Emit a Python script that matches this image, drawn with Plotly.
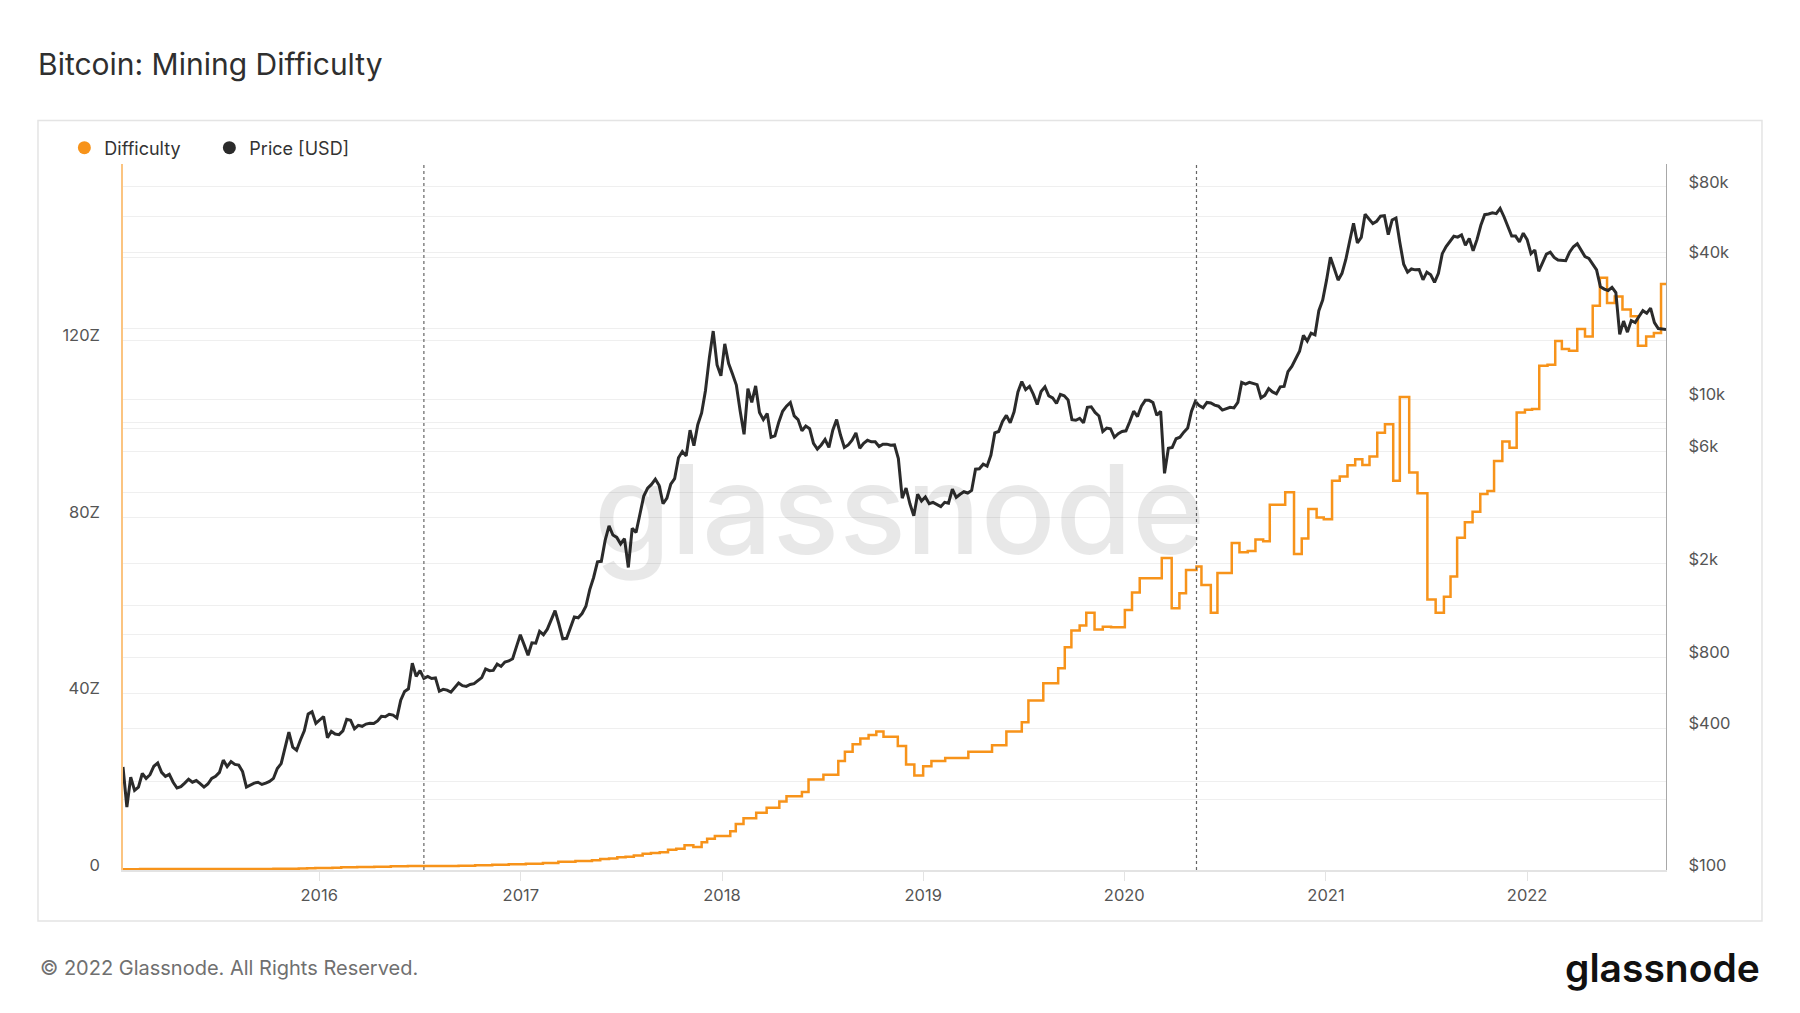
import pandas as pd
import plotly.graph_objects as go

# Weekly BTC price (USD), starting 2015-01-10
price_2015 = [274, 185, 248, 218, 225, 257, 245, 254, 276, 285, 260, 250, 255, 236, 223, 226,
              234, 243, 236, 240, 233, 225, 232, 245, 250, 260, 293, 275, 289, 281, 279, 262,
              225, 230, 234, 236, 231, 234, 238, 245, 270, 283, 326, 385, 333, 323, 357, 390,
              460, 470, 420]
price_2016 = [434, 449, 365, 388, 378, 376, 390, 437, 433, 398, 412, 408, 417, 420, 419, 430,
              450, 448, 459, 455, 443, 527, 574, 589, 756, 665, 704, 652, 665, 651, 655, 575,
              586, 581, 570, 598, 623, 607, 603, 614, 619, 638, 657, 715, 703, 705, 750, 733,
              765, 773, 790, 890, 1000]
price_2017 = [905, 818, 923, 920, 1033, 1000, 1055, 1150, 1265, 1110, 960, 965, 1080, 1190,
              1180, 1230, 1320, 1555, 1750, 2040, 2050, 2520, 2900, 2650, 2590, 2430, 2560,
              1930, 2830, 2720, 3250, 3880, 4190, 4350, 4580, 4300, 3600, 3800, 4360, 4600,
              5650, 6000, 5750, 7400, 6350, 7800, 8750, 10900, 15000, 19500, 14000, 12600]
price_2018 = [17200, 14200, 12800, 11500, 8900, 7100, 11100, 9700, 11400, 8800, 8200, 8700,
              6900, 7000, 8000, 8900, 9350, 9700, 8500, 8200, 7350, 7700, 7500, 6500, 6150,
              6400, 6750, 6250, 7400, 8200, 7050, 6250, 6400, 6700, 7200, 6200, 6500, 6700,
              6600, 6600, 6300, 6450, 6450, 6380, 6400, 5600, 3800, 4200, 3600, 3200, 3950, 3700]
price_2019 = [3850, 3600, 3650, 3580, 3500, 3650, 3620, 4150, 3830, 3950, 4050, 4000, 4100,
              5050, 5070, 5300, 5200, 5800, 7200, 7300, 8050, 8550, 7950, 8850, 10750, 11900,
              11000, 11350, 10500, 9500, 10800, 11300, 10350, 10150, 9600, 10500, 10350, 9950,
              8200, 8150, 8300, 7950, 9250, 9300, 8800, 8500, 7300, 7550, 7500, 6900, 7150, 7300]
price_2020 = [7350, 8050, 8900, 8450, 9350, 9900, 9900, 9700, 8550, 8900, 4850, 6200, 6250,
              6800, 6900, 7250, 7550, 8900, 9800, 9400, 9200, 9700, 9650, 9450, 9350, 9000,
              9100, 9250, 9200, 9700, 11800, 11600, 11800, 11700, 11550, 10150, 10400, 11100,
              10750, 10550, 11300, 11350, 13100, 13800, 14800, 16000, 18700, 17700, 19100,
              18800, 23800, 26400]
price_2021 = [32100, 40200, 36000, 32100, 34300, 39300, 47100, 56000, 46200, 48800, 61200,
              58300, 55800, 57100, 60000, 60300, 50100, 57800, 58900, 46400, 37500, 34700,
              35800, 35500, 35600, 32200, 34700, 33800, 31400, 34300, 41600, 44600, 47100,
              49300, 48900, 50000, 45200, 48300, 42800, 47700, 54900, 60900, 61300, 62000,
              61500, 64800, 59700, 54800, 49400, 49400, 46700, 50800]
price_2022 = [47700, 41600, 43100, 35000, 37900, 41400, 42200, 40100, 39100, 39000, 38800,
              42200, 44500, 45800, 42750, 40400, 39700, 37700, 35500, 30100, 29400, 29000,
              29900, 28400, 18900, 21500, 19300, 21600, 21200, 22500, 23800, 23200, 24400,
              21200, 20000, 19900, 19800]
price = (price_2015 + price_2016 + price_2017 + price_2018 + price_2019 + price_2020
         + price_2021 + price_2022)
price_dates = pd.date_range("2015-01-10", periods=len(price), freq="7D")

# Difficulty (Z) at each adjustment
diff_dates = [
    "2015-01-10", "2015-02-10", "2015-03-10", "2015-04-10", "2015-05-10", "2015-06-10",
    "2015-07-10", "2015-08-10", "2015-09-10", "2015-10-10", "2015-11-10", "2015-11-25",
    "2015-12-10", "2015-12-25",
    "2016-01-10", "2016-01-25", "2016-02-10", "2016-03-10", "2016-04-10", "2016-05-10",
    "2016-06-10", "2016-07-10", "2016-08-10", "2016-09-10", "2016-10-10", "2016-11-10",
    "2016-12-10",
    "2017-01-10", "2017-02-10", "2017-03-10", "2017-04-10", "2017-05-10", "2017-05-25",
    "2017-06-10", "2017-06-25", "2017-07-10", "2017-07-25", "2017-08-10", "2017-08-25",
    "2017-09-10", "2017-09-25", "2017-10-10", "2017-10-25", "2017-11-10", "2017-11-25",
    "2017-12-05", "2017-12-19",
    "2018-01-16", "2018-01-26", "2018-02-09", "2018-03-04", "2018-03-23", "2018-04-15",
    "2018-04-28", "2018-05-26", "2018-06-07", "2018-07-04", "2018-07-31", "2018-08-12",
    "2018-08-26", "2018-09-09", "2018-09-24", "2018-10-08", "2018-10-21", "2018-11-16",
    "2018-12-01", "2018-12-16",
    "2019-01-01", "2019-01-16", "2019-02-10", "2019-03-24", "2019-05-06", "2019-06-01",
    "2019-06-29", "2019-07-11", "2019-08-07", "2019-09-03", "2019-09-15", "2019-09-27",
    "2019-10-12", "2019-10-24", "2019-11-08", "2019-11-23", "2019-12-08",
    "2020-01-02", "2020-01-15", "2020-01-29", "2020-03-09", "2020-03-27", "2020-04-10",
    "2020-04-22", "2020-05-11", "2020-05-20", "2020-06-06", "2020-06-18", "2020-07-14",
    "2020-07-28", "2020-08-12", "2020-08-26", "2020-09-09", "2020-09-21", "2020-10-19",
    "2020-11-04", "2020-11-18", "2020-11-30", "2020-12-15", "2020-12-28",
    "2021-01-12", "2021-01-26", "2021-02-09", "2021-02-23", "2021-03-08", "2021-03-21",
    "2021-04-04", "2021-04-18", "2021-05-03", "2021-05-15", "2021-06-01", "2021-06-16",
    "2021-07-04", "2021-07-19", "2021-08-03", "2021-08-15", "2021-08-27", "2021-09-10",
    "2021-09-24", "2021-10-08", "2021-10-21", "2021-11-02", "2021-11-17", "2021-11-30",
    "2021-12-13", "2021-12-28",
    "2022-01-10", "2022-01-23", "2022-02-07", "2022-02-21", "2022-03-05", "2022-03-18",
    "2022-04-02", "2022-04-16", "2022-04-30", "2022-05-13", "2022-05-26", "2022-06-09",
    "2022-06-23", "2022-07-08", "2022-07-21", "2022-08-05", "2022-08-19", "2022-09-01",
    "2022-09-10"]
difficulty = [
    0.19, 0.20, 0.20, 0.20, 0.20, 0.21, 0.22, 0.22, 0.25, 0.26, 0.28, 0.34, 0.40, 0.44,
    0.45, 0.52, 0.62, 0.68, 0.71, 0.83, 0.88, 0.91, 0.92, 0.96, 1.09, 1.21, 1.33,
    1.40, 1.60, 1.85, 2.05, 2.20, 2.50, 2.60, 2.90, 3.00, 3.30, 3.70, 3.85, 4.00, 4.60,
    4.80, 5.60, 5.20, 6.30, 7.10, 7.70,
    8.8, 10.4, 11.7, 13.0, 14.1, 15.5, 16.7, 17.7, 20.5, 21.6, 24.7, 26.8, 28.5, 29.8,
    30.6, 31.4, 30.2, 28.1, 23.9, 21.4,
    23.5, 24.7, 25.4, 26.8, 28.3, 31.4, 33.5, 38.4, 42.3, 45.7, 50.5, 54.3, 55.4, 58.3,
    54.5, 55.1, 55.0,
    58.9, 62.9, 66.1, 70.7, 59.3, 62.7, 68.0, 68.8, 64.6, 58.3, 67.3, 74.1, 72.0, 72.3,
    74.9, 74.5, 82.8, 85.6, 71.6, 75.1, 81.8, 79.9, 79.5,
    88.2, 89.2, 91.7, 93.1, 91.8, 93.7, 99.1, 101.0, 88.2, 107.2, 90.1, 85.4, 61.3, 58.3,
    61.9, 66.5, 75.3, 78.8, 81.2, 85.2, 85.9, 92.7, 97.1, 95.7, 103.7, 104.3,
    104.5, 114.3, 114.5, 119.9, 118.1, 117.7, 122.6, 120.9, 127.9, 134.2, 128.5, 130.0,
    127.0, 125.5, 118.8, 120.9, 121.7, 132.8, 132.8]

halvings = ["2016-07-09", "2020-05-11"]

left_ticks = [0, 20, 40, 60, 80, 100, 120, 140, 160]
left_text = ["0", "", "40Z", "", "80Z", "", "120Z", "", ""]
right_ticks = [100, 200, 400, 800, 1000, 2000, 4000, 6000, 8000, 10000, 20000, 40000,
               60000, 80000, 100000]
right_text = ["$100", "", "$400", "$800", "", "$2k", "", "$6k", "", "$10k", "", "$40k",
              "", "$80k", ""]

ORANGE = "#f7931a"
DARK = "#2b2b2b"
FONT = "Inter"
W, H = 1792, 1005  # page body adds an 8px offset

fig = go.Figure()
fig.add_trace(go.Scatter(x=diff_dates, y=difficulty, mode="lines", name="Difficulty",
                         line=dict(color=ORANGE, width=2.5, shape="hv"),
                         yaxis="y", showlegend=False))
fig.add_trace(go.Scatter(x=price_dates, y=price, mode="lines", name="Price [USD]",
                         line=dict(color=DARK, width=3), yaxis="y2", showlegend=False))
# legend entries with round markers
fig.add_trace(go.Scatter(x=[None], y=[None], mode="markers", name="Difficulty",
                         marker=dict(color=ORANGE, size=13)))
fig.add_trace(go.Scatter(x=[None], y=[None], mode="markers", name="Price [USD]",
                         marker=dict(color=DARK, size=13)))

for d in halvings:
    fig.add_shape(type="line", xref="x", yref="paper", x0=d, x1=d, y0=0, y1=1,
                  line=dict(color="#666", width=1.2, dash="dot"))

# outer frame
fig.add_shape(type="rect", xref="paper", yref="paper", x0=-0.0551, x1=1.0622,
              y0=-0.0722, y1=1.0616, line=dict(color="#e4e4e4", width=1.5), layer="below")

fig.add_annotation(text="glassnode", xref="paper", yref="paper", x=0.503, y=0.512,
                   showarrow=False,
                   font=dict(family=FONT, size=124, color="rgba(0,0,0,0.09)", weight=500))
fig.add_annotation(text="© 2022 Glassnode. All Rights Reserved.", xref="paper", yref="paper",
                   x=-0.0551, y=-0.1388, xanchor="left", yanchor="middle", showarrow=False,
                   font=dict(family=FONT, size=20, color="#707070"))
fig.add_annotation(text="glassnode", xref="paper", yref="paper", x=1.0622, y=-0.1388,
                   xanchor="right", yanchor="middle", showarrow=False,
                   font=dict(family=FONT, size=39, color="#111", weight=600))

fig.update_layout(
    width=W, height=H,
    margin=dict(l=115, r=134, t=156, b=143),
    paper_bgcolor="white", plot_bgcolor="white",
    font=dict(family=FONT, color="#555"),
    title=dict(text="Bitcoin: Mining Difficulty", x=30 / W, y=1 - 56 / H,
               xref="container", yref="container", xanchor="left", yanchor="middle",
               font=dict(family=FONT, size=30, color="#2f2f2f")),
    legend=dict(orientation="h", x=-0.038, y=1.0227, xanchor="left", yanchor="middle",
                font=dict(family=FONT, size=18, color="#333"), bgcolor="rgba(0,0,0,0)",
                entrywidth=100, entrywidthmode="pixels"),
    xaxis=dict(type="date", range=["2015-01-10", "2022-09-10"], tickformat="%Y",
               dtick="M12", tick0="2016-01-01", showgrid=False, zeroline=False,
               showline=True, linecolor="#e3e3e3", linewidth=1.5, ticks="outside",
               ticklen=9, tickcolor="#e3e3e3", tickfont=dict(size=16.5, color="#555")),
    yaxis=dict(range=[0, 160], tickvals=left_ticks, ticktext=left_text, showgrid=True,
               gridcolor="#efefef", gridwidth=1, zeroline=False, showline=True,
               linecolor="rgba(247,147,26,0.55)", linewidth=1.5, ticks="",
               ticklabelstandoff=18, ticklabelshift=-5, tickfont=dict(size=16.5, color="#555")),
    yaxis2=dict(type="log", range=[2, 5], overlaying="y", side="right",
                tickvals=right_ticks, ticktext=right_text, showgrid=True,
                gridcolor="#efefef", gridwidth=1, zeroline=False, showline=True,
                linecolor="#a8a8a8", linewidth=1.2, ticks="", ticklabelstandoff=18,
                ticklabelshift=-5, tickfont=dict(size=16.5, color="#555")),
)

fig.write_html("out.html")
